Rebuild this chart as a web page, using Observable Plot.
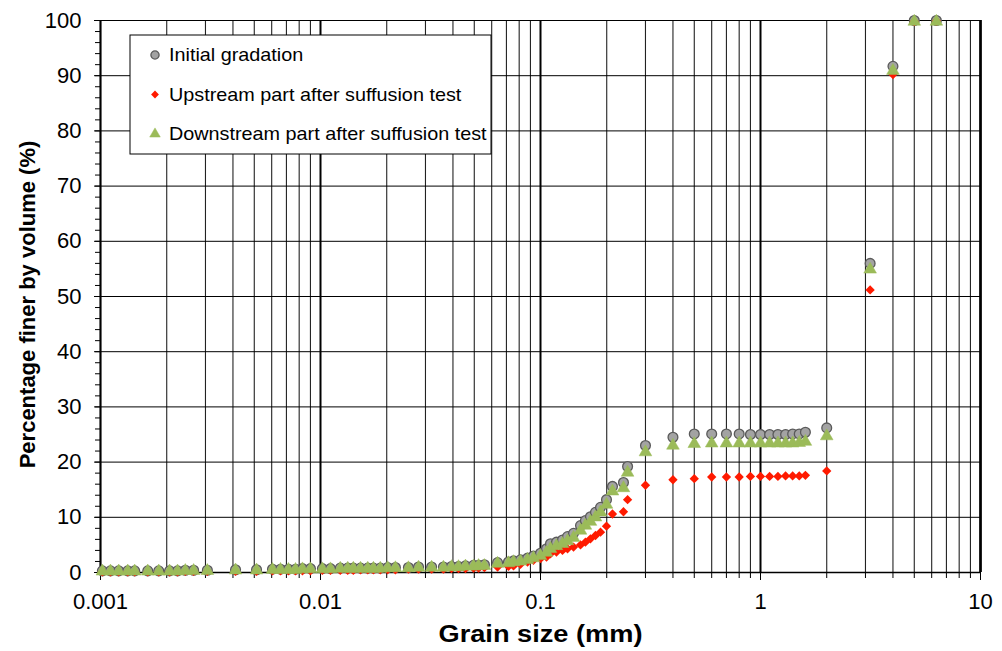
<!DOCTYPE html>
<html><head><meta charset="utf-8">
<script src="https://cdn.jsdelivr.net/npm/d3@7"></script>
<script src="https://cdn.jsdelivr.net/npm/@observablehq/plot@0.6"></script>
<style>
body{margin:0;background:#fff;}
#chart svg{font-family:"Liberation Sans",Arial,sans-serif;overflow:visible;}
</style>
</head><body><div id="chart"></div>
<script>
// Grain sizes (mm)
const sizes = [0.00102,0.00111,0.00121,0.00133,0.00143,0.00164,0.00184,0.00206,0.00224,0.00243,0.00265,0.00306,
  0.00411,0.00512,
  0.00605,0.00658,0.00715,0.0077,0.00828,0.009,
  0.0102,0.0111,0.0123,0.0133,0.0141,0.0152,0.0164,0.0174,0.0187,0.0202,
  0.0219,0.0251,0.0279,0.032,0.0362,0.0394,0.0424,0.0456,0.0496,0.0523,0.0556,
  0.0638,0.0715,0.0754,0.0811,0.0873,0.0929,
  0.1,0.1065,0.111,0.1182,0.1259,0.1327,0.1413,0.152,0.16,0.1687,0.1778,0.1874,0.1995,
  0.2124,0.2383,0.2488,0.3,
  0.4,0.5,0.6,0.7,0.8,0.9,1.0,1.1,1.2,1.3,1.4,1.5,1.6,
  2.0,3.15,4,5,6.3];

const initialGradation = [0.3,0.3,0.3,0.3,0.3,0.3,0.3,0.3,0.3,0.4,0.4,0.4,
  0.5,0.5,
  0.6,0.6,0.6,0.6,0.7,0.7,
  0.7,0.7,0.8,0.8,0.8,0.8,0.8,0.8,0.8,0.9,
  0.9,0.9,1.0,1.0,1.0,1.1,1.1,1.2,1.3,1.3,1.4,
  1.8,1.9,2.1,2.3,2.6,3.0,
  3.5,4.3,5.2,5.5,5.9,6.5,7.1,8.5,9.4,10.1,10.9,11.8,13.2,
  15.6,16.3,19.2,23.0,
  24.5,25.1,25.1,25.1,25.1,25.0,25.0,25.0,25.0,25.0,25.1,25.1,25.4,
  26.2,56.0,91.7,100,100];

const upstreamPart = [0.1,0.1,0.1,0.1,0.1,0.1,0.1,0.1,0.1,0.2,0.2,0.2,
  0.2,0.2,
  0.3,0.3,0.3,0.3,0.3,0.3,
  0.4,0.4,0.4,0.4,0.4,0.5,0.5,0.5,0.5,0.5,
  0.5,0.6,0.6,0.6,0.6,0.7,0.7,0.7,0.8,0.8,0.9,
  1.0,1.1,1.2,1.5,1.9,2.2,
  2.5,2.8,3.4,3.7,4.0,4.3,4.6,5.0,5.5,6.1,6.7,7.3,8.4,
  10.6,11.0,13.2,15.8,
  16.8,17.0,17.3,17.3,17.3,17.4,17.4,17.4,17.4,17.5,17.5,17.5,17.6,
  18.4,51.2,90.2,99.8,99.9];

const downstreamPart = [0.2,0.2,0.2,0.2,0.2,0.2,0.2,0.2,0.2,0.3,0.3,0.3,
  0.4,0.4,
  0.5,0.5,0.5,0.5,0.6,0.6,
  0.6,0.6,0.7,0.7,0.7,0.7,0.7,0.7,0.7,0.8,
  0.8,0.8,0.9,0.9,0.9,1.0,1.0,1.1,1.1,1.2,1.2,
  1.6,1.7,1.9,2.0,2.3,2.6,
  3.0,3.6,4.3,4.8,5.2,5.7,6.3,7.6,8.5,9.2,10.0,10.9,12.3,
  14.7,15.3,18.1,21.8,
  23.0,23.3,23.4,23.4,23.4,23.4,23.4,23.4,23.4,23.4,23.4,23.5,23.7,
  24.7,54.9,90.9,99.8,99.8];

const seriesNames = ["Initial gradation","Upstream part after suffusion test","Downstream part after suffusion test"];
const xMajorTicks = [0.001,0.01,0.1,1,10];
const xTickLabels = ["0.001","0.01","0.1","1","10"];
const yTicks = [0,10,20,30,40,50,60,70,80,90,100];
const yMinorTicks = d3.range(0,101,2);
const xMinorTicks = [0.001,0.01,0.1,1].flatMap(d => [2,3,4,5,6,7,8,9].map(k => +(d*k).toPrecision(3)));
const xTitle = "Grain size (mm)";
const yTitle = "Percentage finer by volume (%)";

const styles = [
  {symbol:"circle", r:4.9, fill:"#a3a3a3", stroke:"#5a5a5a", strokeWidth:1.3},
  {symbol:"diamond2", r:4.2, fill:"#ff1a00", stroke:"none", strokeWidth:0},
  {symbol:"triangle", r:4.7, fill:"#9bbb59", stroke:"#9bbb59", strokeWidth:0.5}
];

const rowsFor = vals => sizes.map((s,i) => ({size:s, value:vals[i]}));
const seriesData = [initialGradation, upstreamPart, downstreamPart].map(rowsFor);

const chart = Plot.plot({
  width:1002, height:651,
  marginLeft:100, marginRight:22, marginTop:20, marginBottom:79,
  x:{type:"log", domain:[0.001,10]},
  y:{domain:[0,100]},
  style:{fontFamily:"Liberation Sans, Arial, sans-serif", color:"#000", background:"#fff"},
  marks:[
    Plot.ruleX(xMinorTicks, {stroke:"#222", strokeWidth:1.1}),
    Plot.ruleX(xMajorTicks, {stroke:"#000", strokeWidth:2}),
    Plot.ruleY(yTicks.slice(1), {stroke:"#000", strokeWidth:1}),
    Plot.ruleX([10], {stroke:"#000", strokeWidth:2.5}),
    Plot.ruleX([0.001], {stroke:"#000", strokeWidth:1.3}),
    Plot.ruleY([0], {stroke:"#000", strokeWidth:1.3}),
    Plot.axisY(yMinorTicks, {tickSize:5, tickFormat:() => "", label:null}),
    Plot.axisY(yTicks, {tickSize:6, tickPadding:13, fontSize:22, label:null, tickFormat:d => String(d)}),
    Plot.axisX(xMinorTicks, {tickSize:6, tickFormat:() => "", label:null}),
    Plot.axisX(xMajorTicks, {tickSize:8, tickPadding:13, fontSize:22, label:null,
      tickFormat:d => xTickLabels[xMajorTicks.indexOf(d)]}),
    ...seriesData.map((data,i) => Plot.dot(data, {x:"size", y:"value", ...styles[i]})),
    Plot.text([xTitle], {frameAnchor:"bottom", dy:62, lineAnchor:"middle", textAnchor:"middle", fontSize:23, fontWeight:"bold", fill:"#000"}),
    Plot.text([yTitle], {frameAnchor:"left", dx:-73, dy:8, rotate:-90, lineAnchor:"middle", textAnchor:"middle", fontSize:22, fontWeight:"bold", fill:"#000"})
  ]
});
document.getElementById("chart").appendChild(chart);

// widen the horizontal title slightly, as in the reference
d3.select(chart).selectAll("text").filter(function(){ return this.textContent === xTitle; })
  .attr("textLength", 204).attr("lengthAdjust", "spacingAndGlyphs");

// Legend inside the plot area
const svg = d3.select(chart);
const lg = svg.append("g").attr("transform","translate(130,35)");
lg.append("rect").attr("width",361).attr("height",119).attr("fill","#fff").attr("stroke","#000").attr("stroke-width",1);
const symMap = {circle:d3.symbolCircle, diamond2:d3.symbolDiamond2, triangle:d3.symbolTriangle};
seriesNames.forEach((name,i) => {
  const yy = 20 + i*39.5;
  const st = styles[i];
  lg.append("path")
    .attr("d", d3.symbol(symMap[st.symbol], Math.PI*st.r*st.r*0.7)())
    .attr("transform",`translate(25,${yy})`)
    .attr("fill", st.fill).attr("stroke", st.stroke).attr("stroke-width", st.strokeWidth);
  const t = lg.append("text").attr("x",39).attr("y",yy).attr("dy","0.35em")
    .attr("text-anchor","start")
    .attr("font-size",18.5).attr("fill","#000").text(name);
  const natural = t.node().getComputedTextLength();
  t.attr("textLength", natural*1.07).attr("lengthAdjust","spacingAndGlyphs");
});
</script>
</body></html>
